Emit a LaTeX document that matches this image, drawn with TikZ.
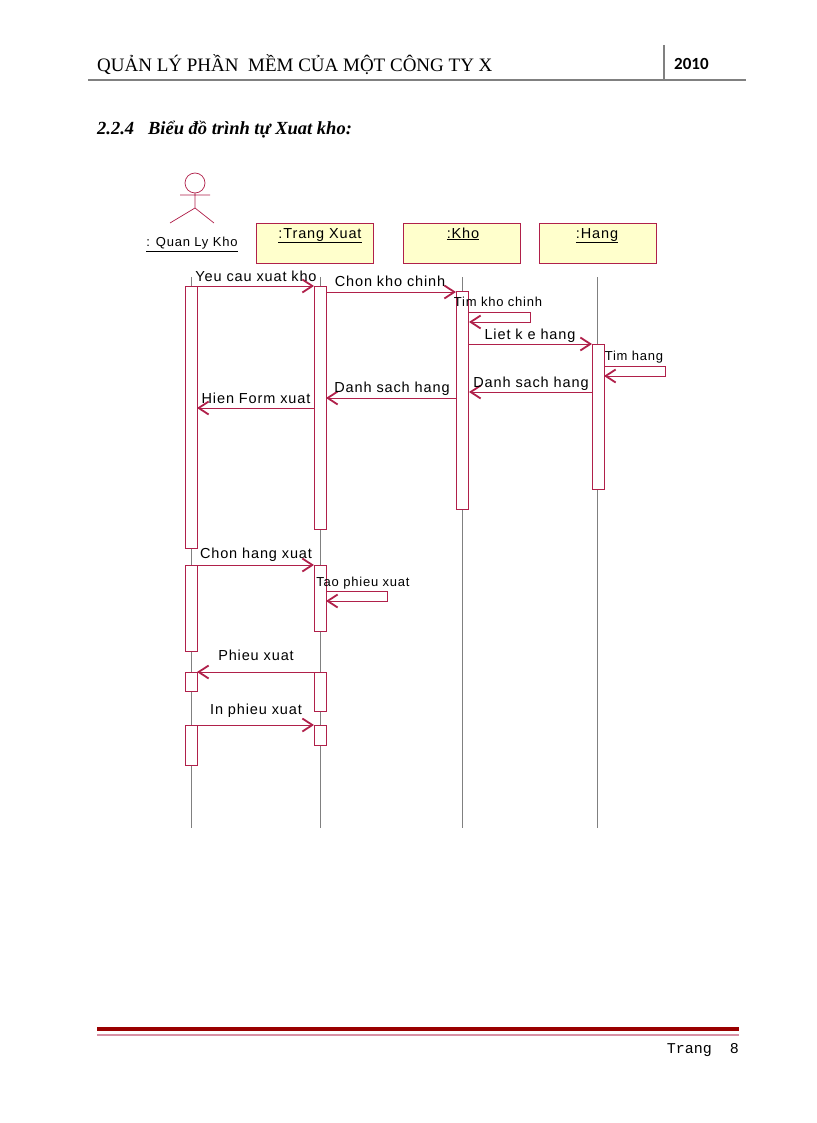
\documentclass[tikz,border=0pt]{standalone}
\usepackage{fontspec}
\setmainfont{Liberation Serif}
\setsansfont{Liberation Sans}
\setmonofont{Liberation Mono}
\newfontfamily\carl{Carlito}
\newfontfamily\wide[LetterSpace=6]{Liberation Sans}
\usetikzlibrary{arrows.meta}
\definecolor{crim}{HTML}{B0204A}
\definecolor{pale}{HTML}{FFFFCC}
\definecolor{dred}{HTML}{990000}
\begin{document}
\begin{tikzpicture}[x=1pt,y=-1pt,
  obj/.style={draw=crim,fill=pale,minimum width=117pt,minimum height=40pt,inner sep=0pt},
  life/.style={draw=gray,line width=0.8pt},
  act/.style={draw=crim,fill=white,line width=0.7pt},
  msg/.style={draw=crim,line width=0.8pt,-{Straight Barb[length=10pt,width=13pt,line width=1.8pt]}},
  lbl/.style={font=\wide\fontsize{14.5}{16}\selectfont,inner sep=0pt,anchor=base},
  slbl/.style={font=\wide\fontsize{13}{15}\selectfont,inner sep=0pt,anchor=base}]
\useasboundingbox (0,0) rectangle (816,1123);
% header
\node[anchor=base west,inner sep=0pt,font=\fontsize{19}{22}\selectfont] (hdr) at (97,72) {QUẢN LÝ PHẦN\ \ MỀM CỦA MỘT CÔNG TY X};
\node[anchor=base west,inner sep=0pt,font=\carl\bfseries\fontsize{17}{20}\selectfont] (yr) at (674,70) {2010};
\draw[gray,line width=1.2pt] (664,45) -- (664,80);
\draw[gray,line width=1.5pt] (88,80) -- (746,80);
\node[anchor=base west,inner sep=0pt,font=\bfseries\itshape\fontsize{18.5}{21}\selectfont] (sec) at (97,135) {2.2.4\ \ \ Biểu đồ trình tự Xuat kho:};
% footer
\draw[dred,line width=4pt] (97,1029) -- (739,1029);
\draw[crim!50,line width=1.5pt] (97,1035) -- (739,1035);
\node[anchor=base east,inner sep=0pt,font=\ttfamily\fontsize{15}{17}\selectfont] (pg) at (739,1053) {Trang\ \ 8};
% actor
\draw[crim,line width=0.7pt] (195,183) circle (10);
\draw[crim,line width=0.7pt] (180,195) -- (210,195) (195,193) -- (195,208) -- (170,223) (195,208) -- (214,223);
\node[slbl] (actor) at (192,247) {\underline{: Quan Ly Kho}};
% objects
\node[obj] (tx) at (314.5,243) {};
\node[obj] (kho) at (462,243) {};
\node[obj] (hang) at (597.5,243) {};
\node[lbl] at (320,238) {\underline{:Trang Xuat}};
\node[lbl] at (463,238) {\underline{:Kho}};
\node[lbl] at (597,238) {\underline{:Hang}};
% lifelines
\coordinate (a0) at (191,277); \coordinate (a1) at (191,828);
\coordinate (t0) at (320,277); \coordinate (t1) at (320,828);
\coordinate (k0) at (462,277); \coordinate (k1) at (462,828);
\coordinate (h0) at (597,277); \coordinate (h1) at (597,828);
\draw[life] (a0) -- (a1); \draw[life] (t0) -- (t1); \draw[life] (k0) -- (k1); \draw[life] (h0) -- (h1);
% activations
\foreach \x/\a/\b in {185/286/548,185/565/651,185/672/691,185/725/765,
  314/286/529,314/565/631,314/672/711,314/725/745,456/291/509,592/344/489}
  \draw[act] (\x,\a) rectangle ++(12,\b-\a);
% messages
\coordinate (m1s) at (197,286); \coordinate (m1e) at (314,286);
\draw[msg] (m1s) -- (m1e); \node[lbl] at (256,281) {Yeu cau xuat kho};
\coordinate (m2s) at (326,292); \coordinate (m2e) at (456,292);
\draw[msg] (m2s) -- (m2e); \node[lbl] at (390,286) {Chon kho chinh};
\coordinate (m3s) at (469,312); \coordinate (m3e) at (469,322);
\draw[msg] (m3s) -- (530,312) -- (530,322) -- (m3e);
\node[slbl] at (498,306) {Tim kho chinh};
\coordinate (m4s) at (469,344); \coordinate (m4e) at (592,344);
\draw[msg] (m4s) -- (m4e); \node[lbl] at (530,339) {Liet k e hang};
\coordinate (m5s) at (604,366); \coordinate (m5e) at (604,376);
\draw[msg] (m5s) -- (665,366) -- (665,376) -- (m5e);
\node[slbl] at (634,360) {Tim hang};
\coordinate (m6s) at (592,392); \coordinate (m6e) at (469,392);
\draw[msg] (m6s) -- (m6e); \node[lbl] at (531,387) {Danh sach hang};
\coordinate (m7s) at (456,398); \coordinate (m7e) at (326,398);
\draw[msg] (m7s) -- (m7e); \node[lbl] at (392,392) {Danh sach hang};
\coordinate (m8s) at (314,408); \coordinate (m8e) at (197,408);
\draw[msg] (m8s) -- (m8e); \node[lbl] at (256,403) {Hien Form xuat};
\coordinate (m9s) at (197,565); \coordinate (m9e) at (314,565);
\draw[msg] (m9s) -- (m9e); \node[lbl] at (256,558) {Chon hang xuat};
\coordinate (m10s) at (326,591); \coordinate (m10e) at (326,601);
\draw[msg] (m10s) -- (387,591) -- (387,601) -- (m10e);
\node[slbl] at (363,586) {Tao phieu xuat};
\coordinate (m11s) at (314,672); \coordinate (m11e) at (197,672);
\draw[msg] (m11s) -- (m11e); \node[lbl] at (256,660) {Phieu xuat};
\coordinate (m12s) at (197,725); \coordinate (m12e) at (314,725);
\draw[msg] (m12s) -- (m12e); \node[lbl] at (256,714) {In phieu xuat};
\end{tikzpicture}
\end{document}
